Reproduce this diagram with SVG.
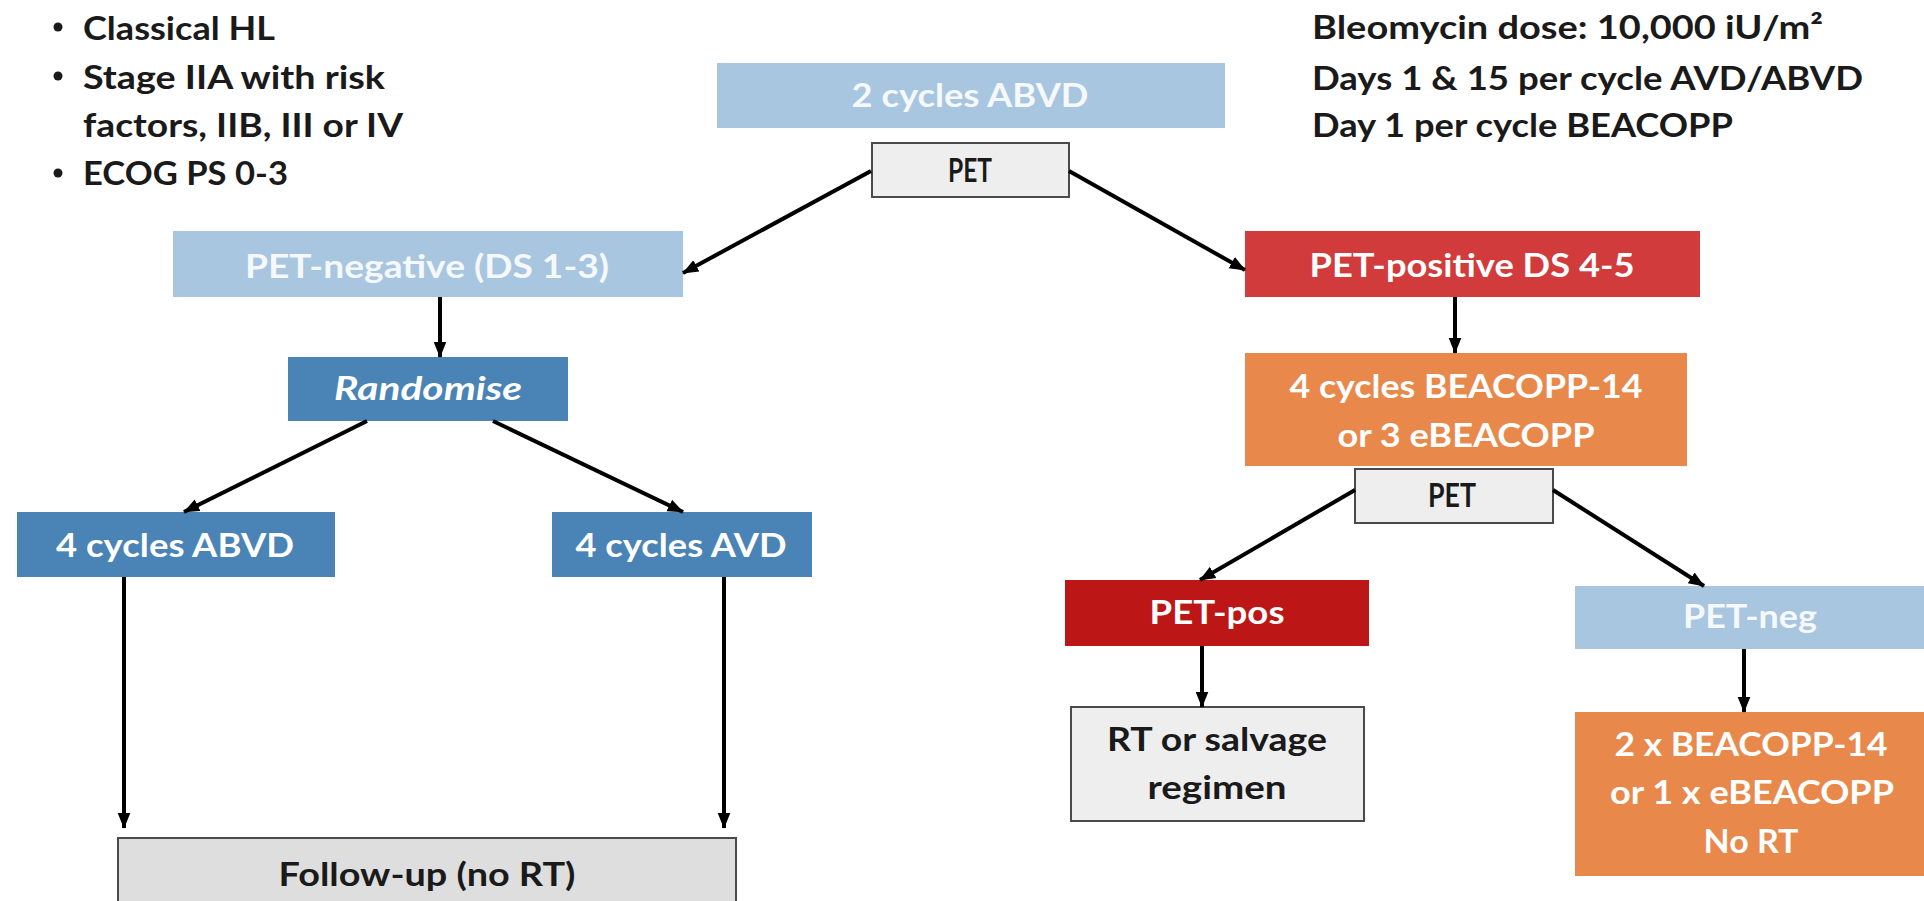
<svg xmlns="http://www.w3.org/2000/svg" width="1924" height="901" viewBox="0 0 1924 901">
<defs>
<marker id="ah" viewBox="0 0 10 10" refX="9.5" refY="5" markerWidth="4" markerHeight="4" orient="auto" markerUnits="strokeWidth">
<path d="M0,1 L10,5 L0,9 z" fill="#000"/>
</marker>
<style>
text{font-family:Lato,"Open Sans","Liberation Sans",sans-serif;font-weight:bold;font-size:33px;text-anchor:middle}
.w{fill:#ffffff}
.lw{fill:#f5f8fc}
.d{fill:#1a1a1a}
.l{text-anchor:start}
.lb{fill:#a8c6e0}
.mb{fill:#4a83b5}
.rd{fill:#d13b3b}
.dr{fill:#bd1616}
.or{fill:#e8894b}
.gy{fill:#eeeeee;stroke:#4a4a4a;stroke-width:2}
.gy2{fill:#dedede;stroke:#4a4a4a;stroke-width:2}
.c line{stroke:#000;stroke-width:4;marker-end:url(#ah)}
</style>
</defs>
<rect width="1924" height="901" fill="#ffffff"/>

<g id="criteria">
<circle cx="58" cy="27" r="4.5" fill="#1a1a1a"/>
<circle cx="58" cy="76" r="4.5" fill="#1a1a1a"/>
<circle cx="58" cy="173" r="4.5" fill="#1a1a1a"/>
<text class="d l" x="83" y="40" textLength="192" lengthAdjust="spacingAndGlyphs">Classical HL</text>
<text class="d l" x="83" y="89" textLength="302" lengthAdjust="spacingAndGlyphs">Stage IIA with risk</text>
<text class="d l" x="83" y="137" textLength="320" lengthAdjust="spacingAndGlyphs">factors, IIB, III or IV</text>
<text class="d l" x="83" y="185" textLength="205" lengthAdjust="spacingAndGlyphs">ECOG PS 0-3</text>
</g>

<g id="bleomycin">
<text class="d l" x="1312" y="39" textLength="511" lengthAdjust="spacingAndGlyphs">Bleomycin dose: 10,000 iU/m²</text>
<text class="d l" x="1312" y="90" textLength="551" lengthAdjust="spacingAndGlyphs">Days 1 &amp; 15 per cycle AVD/ABVD</text>
<text class="d l" x="1312" y="137" textLength="421" lengthAdjust="spacingAndGlyphs">Day 1 per cycle BEACOPP</text>
</g>

<g id="n-2abvd">
<rect class="lb" x="717" y="63" width="508" height="65"/>
<text class="lw" x="970" y="107" textLength="237" lengthAdjust="spacingAndGlyphs">2 cycles ABVD</text>
</g>

<g id="n-pet1">
<rect class="gy" x="872" y="143" width="197" height="54"/>
<text class="d" x="970" y="182" font-size="30" textLength="44" lengthAdjust="spacingAndGlyphs">PET</text>
</g>

<g id="n-petnegative">
<rect class="lb" x="173" y="231" width="510" height="66"/>
<text class="lw" x="427" y="278" textLength="364" lengthAdjust="spacingAndGlyphs">PET-negative (DS 1-3)</text>
</g>

<g id="n-petpositive">
<rect class="rd" x="1245" y="231" width="455" height="66"/>
<text class="w" x="1472" y="277" textLength="325" lengthAdjust="spacingAndGlyphs">PET-positive DS 4-5</text>
</g>

<g id="n-randomise">
<rect class="mb" x="288" y="357" width="280" height="64"/>
<text class="w" x="428" y="400" font-style="italic" textLength="188" lengthAdjust="spacingAndGlyphs">Randomise</text>
</g>

<g id="n-beacopp4">
<rect class="or" x="1245" y="353" width="442" height="113"/>
<text class="w" x="1466" y="398" textLength="353" lengthAdjust="spacingAndGlyphs">4 cycles BEACOPP-14</text>
<text class="w" x="1466" y="447" textLength="257" lengthAdjust="spacingAndGlyphs">or 3 eBEACOPP</text>
</g>

<g id="n-pet2">
<rect class="gy" x="1355" y="469" width="198" height="54"/>
<text class="d" x="1452" y="507" font-size="30" textLength="48" lengthAdjust="spacingAndGlyphs">PET</text>
</g>

<g id="n-4abvd">
<rect class="mb" x="17" y="512" width="318" height="65"/>
<text class="w" x="175" y="557" textLength="238" lengthAdjust="spacingAndGlyphs">4 cycles ABVD</text>
</g>

<g id="n-4avd">
<rect class="mb" x="552" y="512" width="260" height="65"/>
<text class="w" x="681" y="557" textLength="211" lengthAdjust="spacingAndGlyphs">4 cycles AVD</text>
</g>

<g id="n-petpos">
<rect class="dr" x="1065" y="580" width="304" height="66"/>
<text class="w" x="1217" y="624" textLength="135" lengthAdjust="spacingAndGlyphs">PET-pos</text>
</g>

<g id="n-petneg">
<rect class="lb" x="1575" y="586" width="349" height="63"/>
<text class="lw" x="1750" y="628" textLength="134" lengthAdjust="spacingAndGlyphs">PET-neg</text>
</g>

<g id="n-salvage">
<rect class="gy" x="1071" y="707" width="293" height="114"/>
<text class="d" x="1217" y="751" textLength="220" lengthAdjust="spacingAndGlyphs">RT or salvage</text>
<text class="d" x="1217" y="799" textLength="139" lengthAdjust="spacingAndGlyphs">regimen</text>
</g>

<g id="n-beacopp2">
<rect class="or" x="1575" y="712" width="349" height="164"/>
<text class="w" x="1751" y="756" textLength="273" lengthAdjust="spacingAndGlyphs">2 x BEACOPP-14</text>
<text class="w" x="1752" y="804" textLength="284" lengthAdjust="spacingAndGlyphs">or 1 x eBEACOPP</text>
<text class="w" x="1751" y="853" textLength="95" lengthAdjust="spacingAndGlyphs">No RT</text>
</g>

<g id="n-followup">
<rect class="gy2" x="118" y="838" width="618" height="80"/>
<text class="d" x="427" y="886" textLength="297" lengthAdjust="spacingAndGlyphs">Follow-up (no RT)</text>
</g>

<g id="connectors" class="c">
<line x1="871" y1="171" x2="683" y2="273"/>
<line x1="1069" y1="171" x2="1245" y2="270"/>
<line x1="440" y1="297" x2="440" y2="357"/>
<line x1="367" y1="421" x2="184" y2="512"/>
<line x1="493" y1="421" x2="683" y2="512"/>
<line x1="124" y1="577" x2="124" y2="828"/>
<line x1="724" y1="577" x2="724" y2="828"/>
<line x1="1455" y1="297" x2="1455" y2="353"/>
<line x1="1355" y1="490" x2="1200" y2="580"/>
<line x1="1553" y1="490" x2="1704" y2="586"/>
<line x1="1202" y1="646" x2="1202" y2="707"/>
<line x1="1744" y1="649" x2="1744" y2="712"/>
</g>
</svg>
